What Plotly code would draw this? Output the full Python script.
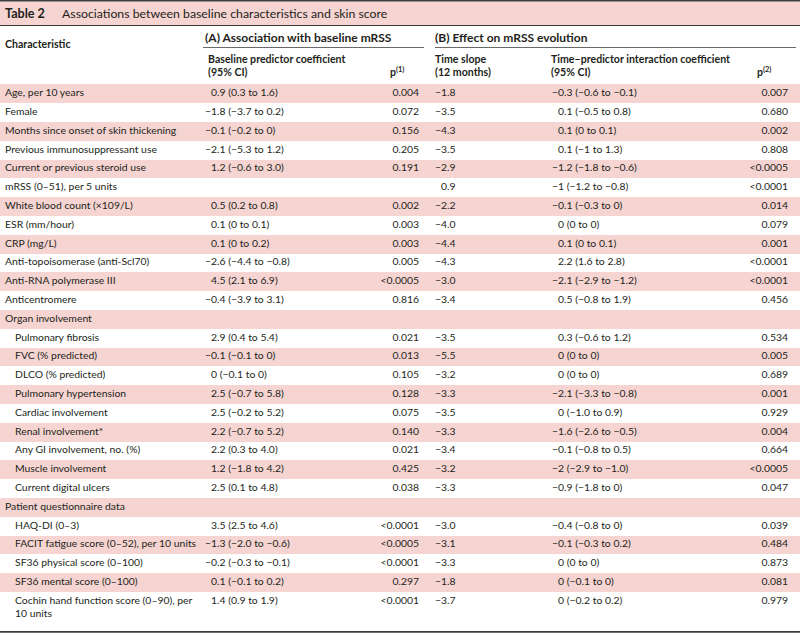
import textwrap
import plotly.graph_objects as go

# ---------------- data ----------------
title_label = "Table 2"
title_text = "Associations between baseline characteristics and skin score"

characteristics = [
    "Age, per 10 years",
    "Female",
    "Months since onset of skin thickening",
    "Previous immunosuppressant use",
    "Current or previous steroid use",
    "mRSS (0–51), per 5 units",
    "White blood count (×109/L)",
    "ESR (mm/hour)",
    "CRP (mg/L)",
    "Anti-topoisomerase (anti-Scl70)",
    "Anti-RNA polymerase III",
    "Anticentromere",
    "Organ involvement",
    "Pulmonary fibrosis",
    "FVC (% predicted)",
    "DLCO (% predicted)",
    "Pulmonary hypertension",
    "Cardiac involvement",
    "Renal involvement*",
    "Any GI involvement, no. (%)",
    "Muscle involvement",
    "Current digital ulcers",
    "Patient questionnaire data",
    "HAQ-DI (0–3)",
    "FACIT fatigue score (0–52), per 10 units",
    "SF36 physical score (0–100)",
    "SF36 mental score (0–100)",
    "Cochin hand function score (0–90), per 10 units",
]
section_headers = ["Organ involvement", "Patient questionnaire data"]

coef_baseline = [
    "0.9 (0.3 to 1.6)", "−1.8 (−3.7 to 0.2)", "−0.1 (−0.2 to 0)", "−2.1 (−5.3 to 1.2)",
    "1.2 (−0.6 to 3.0)", "", "0.5 (0.2 to 0.8)", "0.1 (0 to 0.1)", "0.1 (0 to 0.2)",
    "−2.6 (−4.4 to −0.8)", "4.5 (2.1 to 6.9)", "−0.4 (−3.9 to 3.1)", "",
    "2.9 (0.4 to 5.4)", "−0.1 (−0.1 to 0)", "0 (−0.1 to 0)", "2.5 (−0.7 to 5.8)",
    "2.5 (−0.2 to 5.2)", "2.2 (−0.7 to 5.2)", "2.2 (0.3 to 4.0)", "1.2 (−1.8 to 4.2)",
    "2.5 (0.1 to 4.8)", "", "3.5 (2.5 to 4.6)", "−1.3 (−2.0 to −0.6)",
    "−0.2 (−0.3 to −0.1)", "0.1 (−0.1 to 0.2)", "1.4 (0.9 to 1.9)",
]
p_baseline = [
    "0.004", "0.072", "0.156", "0.205", "0.191", "", "0.002", "0.003", "0.003",
    "0.005", "<0.0005", "0.816", "", "0.021", "0.013", "0.105", "0.128", "0.075",
    "0.140", "0.021", "0.425", "0.038", "", "<0.0001", "<0.0005", "<0.0001",
    "0.297", "<0.0001",
]
time_slope = [
    "−1.8", "−3.5", "−4.3", "−3.5", "−2.9", "0.9", "−2.2", "−4.0", "−4.4", "−4.3",
    "−3.0", "−3.4", "", "−3.5", "−5.5", "−3.2", "−3.3", "−3.5", "−3.3", "−3.4",
    "−3.2", "−3.3", "", "−3.0", "−3.1", "−3.3", "−1.8", "−3.7",
]
coef_interaction = [
    "−0.3 (−0.6 to −0.1)", "0.1 (−0.5 to 0.8)", "0.1 (0 to 0.1)", "0.1 (−1 to 1.3)",
    "−1.2 (−1.8 to −0.6)", "−1 (−1.2 to −0.8)", "−0.1 (−0.3 to 0)", "0 (0 to 0)",
    "0.1 (0 to 0.1)", "2.2 (1.6 to 2.8)", "−2.1 (−2.9 to −1.2)", "0.5 (−0.8 to 1.9)", "",
    "0.3 (−0.6 to 1.2)", "0 (0 to 0)", "0 (0 to 0)", "−2.1 (−3.3 to −0.8)",
    "0 (−1.0 to 0.9)", "−1.6 (−2.6 to −0.5)", "−0.1 (−0.8 to 0.5)", "−2 (−2.9 to −1.0)",
    "−0.9 (−1.8 to 0)", "", "−0.4 (−0.8 to 0)", "−0.1 (−0.3 to 0.2)", "0 (0 to 0)",
    "0 (−0.1 to 0)", "0 (−0.2 to 0.2)",
]
p_interaction = [
    "0.007", "0.680", "0.002", "0.808", "<0.0005", "<0.0001", "0.014", "0.079",
    "0.001", "<0.0001", "<0.0001", "0.456", "", "0.534", "0.005", "0.689", "0.001",
    "0.929", "0.004", "0.664", "<0.0005", "0.047", "", "0.039", "0.484", "0.873",
    "0.081", "0.979",
]

header_a = "(A) Association with baseline mRSS"
header_b = "(B) Effect on mRSS evolution"
sub_coef_a = ["Baseline predictor coefficient", "(95% CI)"]
sub_p_a = "p<sup>(1)</sup>"
sub_slope = ["Time slope", "(12 months)"]
sub_coef_b = ["Time–predictor interaction coefficient", "(95% CI)"]
sub_p_b = "p<sup>(2)</sup>"

# ---------------- style / layout ----------------
W, H = 800, 635
FONT = "Lato, 'Liberation Sans', sans-serif"
FS = 10.4
FS_HEAD = 10.6
FS_GROUP = 12
TXT = "#231f20"
PINK = "#f5d4d1"
RULE = "#3c3c3c"

BODY_TOP = 84.3
PITCH = 18.8
LINE_GAP = 13.7
WRAP = 40

X_CHAR, X_INDENT = 5, 15
X_COEF_A, X_P_A = 205, 419
X_SLOPE, X_COEF_B, X_P_B = 435, 552, 788


def fmt_num(s):
    # pad non-negative leading numbers so they line up with negatives
    if s and not s.startswith("−"):
        return "\u2007" + s
    return s


# row geometry
labels, char_x, char_y, first_y, band_y, band_h, band_c = [], [], [], [], [], [], []
y = BODY_TOP
indent = False
for i, c in enumerate(characteristics):
    if c in section_headers:
        indent = True
        x0 = X_CHAR
    else:
        x0 = X_INDENT if indent else X_CHAR
    lines = textwrap.wrap(c, WRAP)
    n = len(lines)
    h = PITCH + (n - 1) * LINE_GAP
    fy = y + PITCH / 2
    labels.append("<br>".join(lines))
    char_x.append(x0)
    char_y.append(fy + (n - 1) * LINE_GAP / 2)
    first_y.append(fy)
    band_y.append(y + h / 2)
    band_h.append(h)
    band_c.append(PINK if i % 2 == 0 else "rgba(0,0,0,0)")
    y += h
body_bottom = y

fig = go.Figure()

# alternating row bands
fig.add_trace(go.Bar(
    orientation="h", y=band_y, x=[W] * len(band_y), base=0, width=band_h,
    marker=dict(color=band_c, line=dict(width=0)), hoverinfo="skip", showlegend=False,
))


def text_col(x, ys, texts, pos, fmt=None):
    pts = [(yy, t) for yy, t in zip(ys, texts) if t]
    xs = x if isinstance(x, list) else [x] * len(pts)
    fig.add_trace(go.Scatter(
        x=xs, y=[p[0] for p in pts],
        text=[fmt(p[1]) if fmt else p[1] for p in pts],
        mode="text", textposition=pos,
        textfont=dict(family=FONT, size=FS, color=TXT),
        hoverinfo="skip", showlegend=False, cliponaxis=False,
    ))


text_col(char_x, char_y, labels, "middle right")
text_col(X_COEF_A, first_y, coef_baseline, "middle right", fmt_num)
text_col(X_P_A, first_y, p_baseline, "middle left")
text_col(X_SLOPE, first_y, time_slope, "middle right", fmt_num)
text_col(X_COEF_B, first_y, coef_interaction, "middle right", fmt_num)
text_col(X_P_B, first_y, p_interaction, "middle left")

# title band and rules
shapes = [
    dict(type="rect", x0=0, x1=W, y0=1.5, y1=25.5, fillcolor=PINK, line=dict(width=0), layer="below"),
    dict(type="line", x0=0, x1=W, y0=0.8, y1=0.8, line=dict(color=RULE, width=1.6)),
    dict(type="line", x0=0, x1=W, y0=25.5, y1=25.5, line=dict(color=RULE, width=1)),
    dict(type="line", x0=203, x1=424, y0=47.5, y1=47.5, line=dict(color="#6a6a6a", width=1)),
    dict(type="line", x0=435, x1=796, y0=47.5, y1=47.5, line=dict(color="#6a6a6a", width=1)),
    dict(type="line", x0=0, x1=W, y0=body_bottom + 7.5, y1=body_bottom + 7.5,
         line=dict(color=RULE, width=1.6)),
]


def ann(x, y, text, size=FS_HEAD, bold=False, xanchor="left"):
    return dict(
        x=x, y=y, xref="x", yref="y", text=f"<b>{text}</b>" if bold else text,
        showarrow=False, xanchor=xanchor, yanchor="middle", borderpad=0, borderwidth=0,
        font=dict(family=FONT, size=size, color=TXT),
    )


annotations = [
    ann(5, 13.5, title_label, size=12.6, bold=True),
    ann(62, 13.5, title_text, size=12.3),
    ann(5, 43.5, "Characteristic", bold=True),
    ann(205, 37.5, header_a, size=FS_GROUP, bold=True),
    ann(435, 37.5, header_b, size=FS_GROUP, bold=True),
    ann(208, 58.5, sub_coef_a[0], bold=True),
    ann(208, 72, sub_coef_a[1], bold=True),
    ann(390, 71, sub_p_a, bold=True),
    ann(435, 58.5, sub_slope[0], bold=True),
    ann(435, 72, sub_slope[1], bold=True),
    ann(551, 58.5, sub_coef_b[0], bold=True),
    ann(551, 72, sub_coef_b[1], bold=True),
    ann(757, 71, sub_p_b, bold=True),
]

fig.update_layout(
    width=W, height=H, margin=dict(l=0, r=0, t=0, b=0),
    paper_bgcolor="white", plot_bgcolor="white",
    xaxis=dict(range=[0, W], visible=False, fixedrange=True),
    yaxis=dict(range=[H, 0], visible=False, fixedrange=True),
    shapes=shapes, annotations=annotations, bargap=0, showlegend=False,
    font=dict(family=FONT, size=FS, color=TXT),
)

fig.write_html(
    "out.html",
    config={"displayModeBar": False},
    post_script="document.body.style.margin='0';document.body.style.overflow='hidden';",
)
